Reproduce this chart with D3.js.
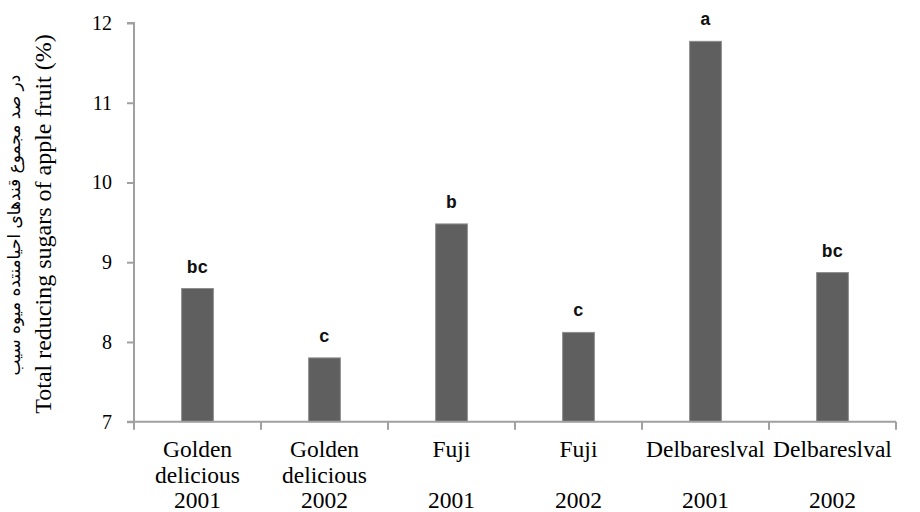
<!DOCTYPE html>
<html>
<head>
<meta charset="utf-8">
<script src="https://cdn.jsdelivr.net/npm/d3@7"></script>
<style>
  html, body { margin: 0; padding: 0; background: #fff; }
  svg { display: block; }
</style>
</head>
<body>
<svg id="chart" width="920" height="512"></svg>
<script>
const categories = [
  ["Golden", "delicious", "2001"],
  ["Golden", "delicious", "2002"],
  ["Fuji", "", "2001"],
  ["Fuji", "", "2002"],
  ["Delbareslval", "", "2001"],
  ["Delbareslval", "", "2002"]
];
const values = [8.67, 7.80, 9.48, 8.12, 11.77, 8.87];
const letters = ["bc", "c", "b", "c", "a", "bc"];
const yTicks = [7, 8, 9, 10, 11, 12];
const yTitleEn = "Total reducing sugars of apple fruit (%)";
const yTitleFa = "در صد مجموع قندهای احیامنتده میوه سیب";

const svg = d3.select("#chart");
const mLeft = 134, mRight = 896, mTop = 23, mBottom = 421.7;
const axisColor = "#a0a0a0";
const serif = "'Liberation Serif', 'Times New Roman', serif";

const x = d3.scaleBand().domain(d3.range(categories.length)).range([mLeft, mRight]).padding(0);
const y = d3.scaleLinear().domain([7, 12]).range([mBottom, mTop]);
const barW = x.bandwidth() * 0.25;

// bars
svg.append("g").selectAll("rect").data(values).join("rect")
  .attr("x", (d, i) => x(i) + x.bandwidth() / 2 - barW / 2)
  .attr("y", d => y(d))
  .attr("width", barW)
  .attr("height", d => y(7) - y(d))
  .attr("fill", "#5f5f5f")
  .attr("stroke", "#8c8c8c")
  .attr("stroke-width", 1);

// letters
svg.append("g").selectAll("text").data(values).join("text")
  .attr("x", (d, i) => x(i) + x.bandwidth() / 2)
  .attr("y", d => y(d) - 16)
  .attr("text-anchor", "middle")
  .attr("font-family", "'Liberation Mono', 'Courier New', monospace")
  .attr("font-weight", "bold")
  .attr("font-size", 18)
  .attr("fill", "#111")
  .text((d, i) => letters[i]);

// y axis
const yAxis = svg.append("g").attr("transform", `translate(${mLeft},0)`)
  .call(d3.axisLeft(y).tickValues(yTicks).tickSize(7).tickPadding(15).tickFormat(d3.format("d")));
yAxis.select(".domain").attr("stroke", axisColor).attr("stroke-width", 2).attr("d", `M-7,${mTop}H0V${mBottom}`);
yAxis.selectAll(".tick line").attr("stroke", axisColor).attr("stroke-width", 2);
yAxis.selectAll(".tick text")
  .attr("font-family", serif)
  .attr("font-size", 20).attr("fill", "#000");

// x axis
const xAxisG = svg.append("g").attr("transform", `translate(0,${mBottom})`);
xAxisG.append("line").attr("x1", mLeft - 7).attr("x2", mRight).attr("y1", 0).attr("y2", 0)
  .attr("stroke", axisColor).attr("stroke-width", 2);
const boundaries = d3.range(categories.length + 1).map(i => i < categories.length ? x(i) : x(i - 1) + x.bandwidth());
xAxisG.selectAll("line.tk").data(boundaries).join("line").attr("class", "tk")
  .attr("x1", d => d).attr("x2", d => d).attr("y1", 0).attr("y2", 8)
  .attr("stroke", axisColor).attr("stroke-width", 2);

// category labels
const catG = svg.append("g");
categories.forEach((lines, i) => {
  lines.forEach((t, j) => {
    if (!t) return;
    catG.append("text")
      .attr("x", x(i) + x.bandwidth() / 2)
      .attr("y", mBottom + 35.5 + j * 25.5)
      .attr("text-anchor", "middle")
      .attr("font-family", serif)
      .attr("font-size", 23.5)
      .attr("fill", "#000")
      .text(t);
  });
});

// y titles
svg.append("text")
  .attr("transform", `translate(51,224) rotate(-90)`)
  .attr("text-anchor", "middle")
  .attr("font-family", serif)
  .attr("font-size", 24)
  .attr("fill", "#000")
  .text(yTitleEn);
svg.append("text")
  .attr("transform", `translate(20,225) rotate(-90)`)
  .attr("text-anchor", "middle")
  .attr("direction", "rtl")
  .attr("font-family", "'DejaVu Sans', sans-serif")
  .attr("font-size", 17)
  .attr("fill", "#000")
  .text(yTitleFa);
</script>
</body>
</html>
